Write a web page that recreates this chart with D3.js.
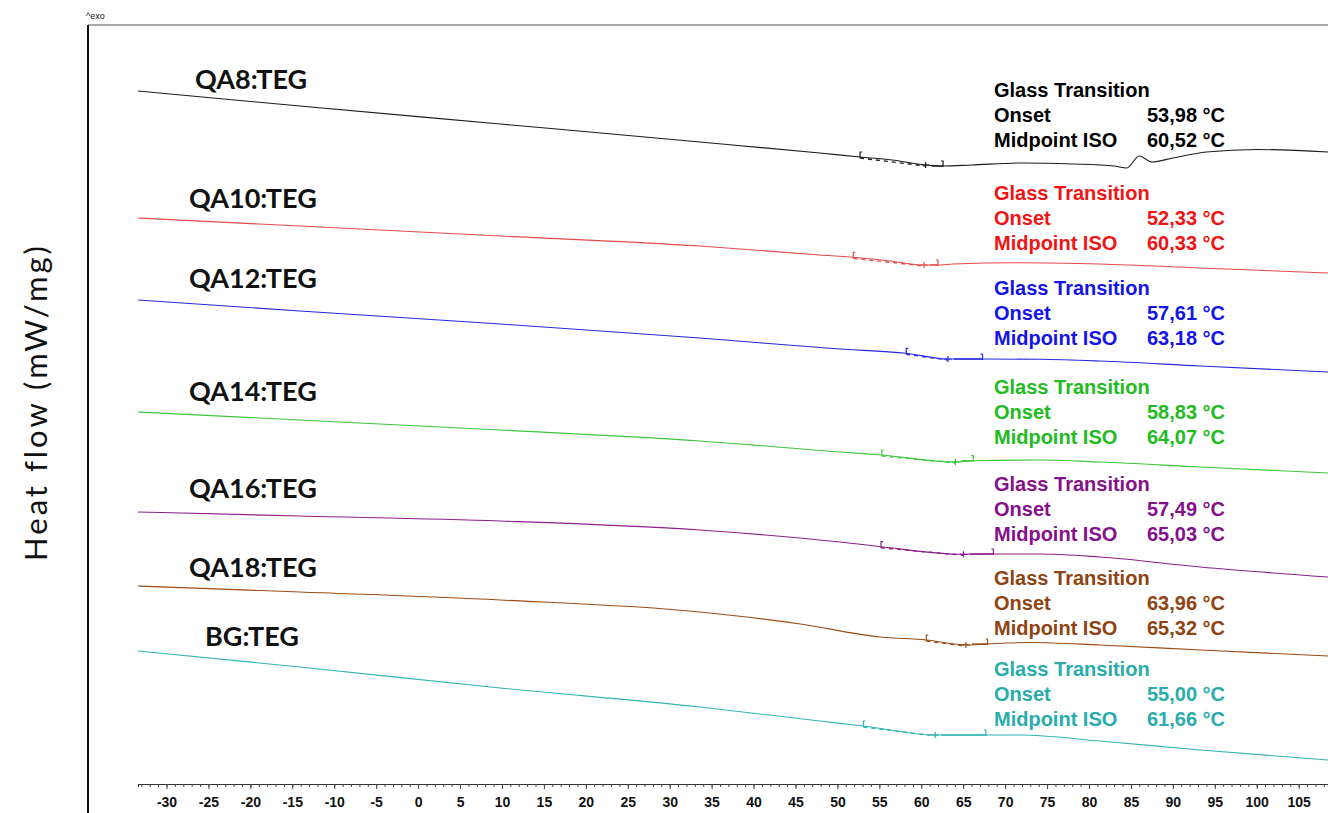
<!DOCTYPE html>
<html>
<head>
<meta charset="utf-8">
<script src="https://cdn.jsdelivr.net/npm/d3@7"></script>
<style>
  html, body { margin: 0; padding: 0; background: #fff; }
  svg { display: block; }
</style>
</head>
<body>
<svg id="chart" width="1328" height="813"></svg>
<script>
// DSC heating curves, temperature (°C) vs heat flow (exo up, curves stacked with offsets)
const samples = ["QA8:TEG", "QA10:TEG", "QA12:TEG", "QA14:TEG", "QA16:TEG", "QA18:TEG", "BG:TEG"];

const qa8T  = [-33.4, -14.1, 9.8, 33.6, 47.9, 52.7, 56.5, 60.5, 62.6, 66, 72, 78, 83, 84.5, 86, 87.5, 90, 94, 100, 108.5];
const qa8HF = [6.93, 6.78, 6.60, 6.42, 6.31, 6.27, 6.24, 6.19, 6.18, 6.19, 6.21, 6.20, 6.18, 6.16, 6.28, 6.22, 6.26, 6.32, 6.345, 6.32];

const qa10T  = [-33.4, -14.1, 9.8, 33.6, 47.9, 51.9, 56.3, 60.3, 62.0, 63.8, 71.8, 81.3, 93.3, 108.5];
const qa10HF = [5.66, 5.58, 5.48, 5.38, 5.29, 5.267, 5.23, 5.19, 5.19, 5.20, 5.213, 5.20, 5.16, 5.11];

const qa12T  = [-33.4, -14.1, 9.8, 33.6, 50.3, 58.2, 63.1, 67.3, 74.2, 81.3, 93.3, 108.5];
const qa12HF = [4.84, 4.73, 4.60, 4.46, 4.35, 4.307, 4.25, 4.25, 4.247, 4.23, 4.18, 4.12];

const qa14T  = [-33.4, -14.1, 9.8, 33.6, 50.3, 55.3, 64.0, 66.2, 74.2, 81.3, 93.3, 108.5];
const qa14HF = [3.72, 3.64, 3.54, 3.43, 3.32, 3.29, 3.22, 3.233, 3.24, 3.22, 3.17, 3.11];

const qa16T  = [-33.4, -14.1, 9.8, 33.6, 50.3, 55.2, 65.0, 68.6, 74.2, 81.3, 93.3, 108.5];
const qa16HF = [2.72, 2.68, 2.63, 2.54, 2.42, 2.373, 2.297, 2.30, 2.30, 2.27, 2.17, 2.07];

const qa18T  = [-33.4, -14.1, 9.8, 33.6, 45.6, 55.1, 60.6, 65.4, 67.9, 73.0, 81.3, 93.3, 108.5];
const qa18HF = [1.98, 1.92, 1.84, 1.72, 1.60, 1.47, 1.44, 1.39, 1.40, 1.415, 1.39, 1.34, 1.28];

const bgT  = [-33.4, -14.1, 9.8, 33.6, 47.9, 53.1, 61.7, 67.7, 71.8, 81.3, 93.3, 108.5];
const bgHF = [1.33, 1.17, 0.96, 0.77, 0.63, 0.58, 0.49, 0.49, 0.49, 0.43, 0.34, 0.24];

// Glass transition evaluation (°C)
const onsetTg    = [53.98, 52.33, 57.61, 58.83, 57.49, 63.96, 55.00];
const midpointTg = [60.52, 60.33, 63.18, 64.07, 65.03, 65.32, 61.66];
// Evaluation limits of each step
const leftLimit  = [52.7, 51.9, 58.2, 55.3, 55.2, 60.6, 53.1];
const rightLimit = [62.6, 62.0, 67.3, 66.2, 68.6, 67.9, 67.7];

const tempTicks = d3.range(-30, 106, 5);

const temps = [qa8T, qa10T, qa12T, qa14T, qa16T, qa18T, bgT];
const flows = [qa8HF, qa10HF, qa12HF, qa14HF, qa16HF, qa18HF, bgHF];

// styling
const lineColors = ["#1c1c1c", "#e84a4a", "#2828e0", "#3cc83c", "#8c1f8c", "#9a4c14", "#34b4b4"];
const textColors = ["#000000", "#f01414", "#1414e8", "#22bb22", "#84108a", "#8e4412", "#2aacac"];
const nameLabelPos = [[195, 80], [189, 199], [189, 279], [189, 392], [189, 489], [189, 568], [205, 637]];
const blockTop = [90, 193, 288, 387, 484, 578, 669];

const svg = d3.select("#chart");
const W = 1328, H = 813;

const x = d3.scaleLinear().domain([-33.4, 108.5]).range([138, 1328]);
const y = d3.scaleLinear().domain([0, 7.6]).range([784, 24]);

// frame
svg.append("line").attr("x1", 88).attr("x2", W).attr("y1", 25).attr("y2", 25)
  .attr("stroke", "#8c8c8c").attr("stroke-width", 1.6);
svg.append("line").attr("x1", 88).attr("x2", 88).attr("y1", 25).attr("y2", H)
  .attr("stroke", "#111").attr("stroke-width", 2);
svg.append("text").attr("x", 86).attr("y", 19)
  .attr("font-family", "Liberation Sans, Arial, sans-serif").attr("font-size", 9)
  .attr("fill", "#222").text("^exo");

// y label
svg.append("text")
  .attr("transform", "translate(47,402) rotate(-90)")
  .attr("text-anchor", "middle")
  .attr("font-family", "Lato, 'Open Sans', sans-serif")
  .attr("font-size", 31)
  .attr("letter-spacing", 3)
  .attr("fill", "#111")
  .text("Heat flow (mW/mg)");

// temperature axis: minor ticks every degree, major every 5
const axisG = svg.append("g").attr("transform", "translate(0,784)");
axisG.append("g")
  .call(d3.axisBottom(x).tickValues(d3.range(-33, 109, 1)).tickSize(3).tickFormat(""))
  .call(g => g.select(".domain").attr("stroke", "#333").attr("stroke-width", 1.2))
  .call(g => g.selectAll(".tick line").attr("stroke", "#444"));
axisG.append("g")
  .call(d3.axisBottom(x).tickValues(tempTicks).tickSize(5).tickPadding(8).tickFormat(d => String(d)))
  .call(g => g.select(".domain").remove())
  .call(g => g.selectAll(".tick line").attr("stroke", "#444"))
  .call(g => g.selectAll(".tick text")
    .attr("font-family", "Liberation Sans, Arial, sans-serif")
    .attr("font-weight", "bold").attr("font-size", 14).attr("fill", "#111"));

// curves
const line = d3.line().x(d => x(d[0])).y(d => y(d[1])).curve(d3.curveMonotoneX);

function valueAt(ts, hs, t) {
  const i = Math.max(1, Math.min(ts.length - 1, d3.bisectLeft(ts, t)));
  const k = (t - ts[i - 1]) / (ts[i] - ts[i - 1]);
  return hs[i - 1] + k * (hs[i] - hs[i - 1]);
}

samples.forEach((name, s) => {
  const pts = temps[s].map((t, i) => [t, flows[s][i]]);
  const col = lineColors[s];
  svg.append("path").datum(pts).attr("d", line)
    .attr("fill", "none").attr("stroke", col).attr("stroke-width", 1.1);

  // tangent dashes between evaluation limits
  const l = leftLimit[s], m = midpointTg[s], r = rightLimit[s];
  svg.append("line")
    .attr("x1", x(l)).attr("y1", y(valueAt(temps[s], flows[s], l)) + 1)
    .attr("x2", x(m)).attr("y2", y(valueAt(temps[s], flows[s], m)) + 1)
    .attr("stroke", col).attr("stroke-width", 1.4).attr("stroke-dasharray", "4,4");
  svg.append("line")
    .attr("x1", x(m) + 6).attr("y1", y(valueAt(temps[s], flows[s], r)))
    .attr("x2", x(r)).attr("y2", y(valueAt(temps[s], flows[s], r)))
    .attr("stroke", col).attr("stroke-width", 1.4);

  // left limit flag
  const lx = x(l), ly = y(valueAt(temps[s], flows[s], l));
  svg.append("path").attr("d", `M${lx},${ly + 1}V${ly - 5}h2`)
    .attr("fill", "none").attr("stroke", col).attr("stroke-width", 1.2);
  // midpoint cross
  const mx = x(m), my = y(valueAt(temps[s], flows[s], m));
  svg.append("path").attr("d", `M${mx - 4},${my}h8M${mx},${my - 3}v6`)
    .attr("fill", "none").attr("stroke", col).attr("stroke-width", 1.2);
  // right limit flag
  const rx = x(r), ry = y(valueAt(temps[s], flows[s], r));
  svg.append("path").attr("d", `M${rx},${ry + 1}V${ry - 5}h-2`)
    .attr("fill", "none").attr("stroke", col).attr("stroke-width", 1.2);

  // sample name
  svg.append("text").attr("x", nameLabelPos[s][0]).attr("y", nameLabelPos[s][1])
    .attr("dy", "0.35em")
    .attr("font-family", "Lato, 'Open Sans', sans-serif").attr("font-weight", "bold")
    .attr("font-size", 27).attr("fill", "#111").text(name);

  // evaluation block
  const fmt = v => v.toFixed(2).replace(".", ",") + " °C";
  const rows = [["Glass Transition", ""], ["Onset", fmt(onsetTg[s])], ["Midpoint ISO", fmt(midpointTg[s])]];
  rows.forEach((row, j) => {
    const yy = blockTop[s] + j * 25;
    svg.append("text").attr("x", 994).attr("y", yy).attr("dy", "0.35em")
      .attr("font-family", "Liberation Sans, Arial, sans-serif").attr("font-weight", "bold")
      .attr("font-size", 20).attr("fill", textColors[s]).text(row[0]);
    if (row[1]) {
      svg.append("text").attr("x", 1147).attr("y", yy).attr("dy", "0.35em")
        .attr("font-family", "Liberation Sans, Arial, sans-serif").attr("font-weight", "bold")
        .attr("font-size", 20).attr("fill", textColors[s]).text(row[1]);
    }
  });
});
</script>
</body>
</html>
